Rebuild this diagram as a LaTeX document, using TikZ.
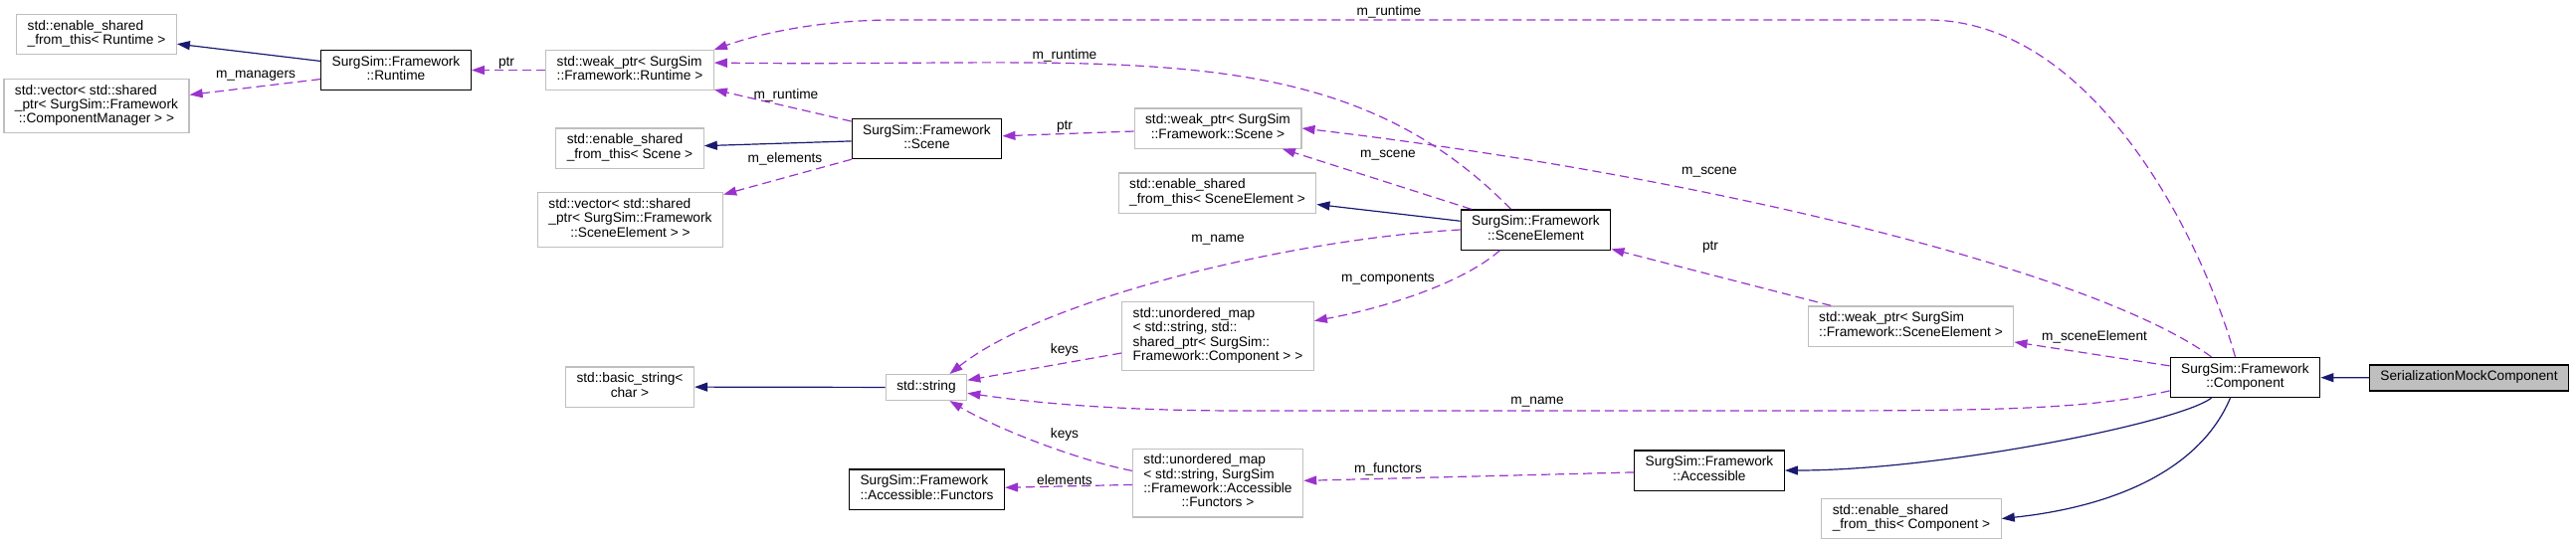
\documentclass[tikz,border=0pt]{standalone}
\usepackage{fontspec}
\setmainfont{Liberation Sans}
\usetikzlibrary{arrows.meta}
\definecolor{dxgray}{HTML}{BFBFBF}
\definecolor{dxblue}{HTML}{191970}
\definecolor{dxpurple}{HTML}{9A32CD}
\newcommand{\clsone}[1]{\begin{tabular}{@{}c@{}}#1\end{tabular}}
\newcommand{\clstwo}[2]{\begin{tabular}{@{}l@{}}#1\\\multicolumn{1}{@{}c@{}}{#2}\end{tabular}}
\begin{document}
\begin{tikzpicture}[x=1pt,y=1pt,
  every node/.style={font=\fontsize{13.7}{14.3}\selectfont},
  cls/.style={draw=black,line width=1.2pt,fill=white,inner xsep=11pt,inner ysep=5.8pt},
  ext/.style={cls,draw=dxgray},
  self/.style={cls,fill=dxgray},
  inh/.style={draw=dxblue,line width=1.2pt,-{Triangle[length=13pt,width=9pt]}},
  use/.style={draw=dxpurple,line width=1.2pt,dash pattern=on 9pt off 5pt,-{Triangle[length=13pt,width=9pt]}},
  lab/.style={inner sep=1pt}]
 \useasboundingbox (0,0) rectangle (2589,-547);
 % classes
 \node[ext] (esftR) at (97,-34.5) {\clstwo{std::enable\_shared}{\_from\_this< Runtime >}};
 \node[ext] (vecCM) at (97,-106.5) {\clstwo{std::vector< std::shared\\\_ptr< SurgSim::Framework}{::ComponentManager > >}};
 \node[cls] (runtime) at (398,-70.5) {\clstwo{SurgSim::Framework}{::Runtime}};
 \node[ext] (weakR) at (633,-70.5) {\clstwo{std::weak\_ptr< SurgSim}{::Framework::Runtime >}};
 \node[ext] (esftS) at (633,-149) {\clstwo{std::enable\_shared}{\_from\_this< Scene >}};
 \node[ext] (vecSE) at (633.5,-221) {\clstwo{std::vector< std::shared\\\_ptr< SurgSim::Framework}{::SceneElement > >}};
 \node[cls] (scene) at (931.5,-139.5) {\clstwo{SurgSim::Framework}{::Scene}};
 \node[ext] (weakS) at (1224,-129) {\clstwo{std::weak\_ptr< SurgSim}{::Framework::Scene >}};
 \node[ext] (esftSE) at (1223.5,-194) {\clstwo{std::enable\_shared}{\_from\_this< SceneElement >}};
 \node[cls] (sceneEl) at (1543.5,-231) {\clstwo{SurgSim::Framework}{::SceneElement}};
 \node[ext] (mapC) at (1224,-338) {\clstwo{std::unordered\_map\\< std::string, std::\\shared\_ptr< SurgSim::}{Framework::Component > >}};
 \node[ext] (basic) at (633,-389) {\clstwo{std::basic\_string<}{char >}};
 \node[ext] (str) at (931,-389.5) {\clsone{std::string}};
 \node[ext] (weakSE) at (1920.5,-328) {\clstwo{std::weak\_ptr< SurgSim}{::Framework::SceneElement >}};
 \node[cls] (comp) at (2256.5,-379.5) {\clstwo{SurgSim::Framework}{::Component}};
 \node[self] (smc) at (2481.5,-380) {\clsone{SerializationMockComponent}};
 \node[cls] (access) at (1718,-473) {\clstwo{SurgSim::Framework}{::Accessible}};
 \node[ext] (mapF) at (1224,-485.5) {\clstwo{std::unordered\_map\\< std::string, SurgSim\\::Framework::Accessible}{::Functors >}};
 \node[cls] (functors) at (931.5,-492) {\clstwo{SurgSim::Framework}{::Accessible::Functors}};
 \node[ext] (esftC) at (1921,-521.5) {\clstwo{std::enable\_shared}{\_from\_this< Component >}};
 % inheritance
 \draw[inh] (runtime) -- (esftR);
 \draw[inh] (scene) -- (esftS);
 \draw[inh] (sceneEl) -- (esftSE);
 \draw[inh] (str) -- (basic);
 \draw[inh] (smc) -- (comp);
 \draw[inh] ([xshift=-34pt]comp.south) .. controls (2190,-425) and (1950,-473) .. (access.east);
 \draw[inh] ([xshift=-15pt]comp.south) .. controls (2210,-475) and (2120,-510) .. (esftC.east);
 % members
 \draw[use] (runtime) -- (vecCM);
 \draw[use] (weakR) -- (runtime);
 \draw[use] ([xshift=-10pt]comp.north) .. controls (2210,-230) and (2100,-20) .. (1937,-20)
   -- (900,-20) .. controls (820,-20) and (760,-35) .. (weakR.north east);
 \draw[use] ([xshift=-25pt]sceneEl.north) .. controls (1342,-30) and (1117,-68) .. (weakR.5);
 \draw[use] (scene) -- (weakR);
 \draw[use] (scene) -- (vecSE);
 \draw[use] (weakS) -- (scene);
 \draw[use] (sceneEl) -- (weakS);
 \draw[use] ([xshift=-34pt]comp.north) .. controls (2100,-270) and (1700,-175) .. (weakS.east);
 \draw[use] (sceneEl.west) .. controls (1300,-240) and (1050,-300) .. (str.30);
 \draw[use] ([xshift=-36pt]sceneEl.south) .. controls (1470,-285) and (1390,-310) .. (mapC.9);
 \draw[use] (mapC) -- (str);
 \draw[use] (comp.190) .. controls (2100,-412) and (2000,-413) .. (1800,-413)
   -- (1250,-413) .. controls (1100,-413) and (1020,-402) .. (str.-8);
 \draw[use] (mapF.172) .. controls (1080,-462) and (1000,-430) .. (str.-30);
 \draw[use] (mapF) -- (functors);
 \draw[use] (access) -- (mapF);
 \draw[use] (weakSE) -- (sceneEl);
 \draw[use] (comp) -- (weakSE);
 % labels
 \node[lab] (lManagers) at (257,-76) {m\_managers};
 \node[lab] (lPtrR) at (509,-63) {ptr};
 \node[lab] (lRuntimeTop) at (1396,-12) {m\_runtime};
 \node[lab] (lRuntimeSE) at (1070,-56) {m\_runtime};
 \node[lab] (lRuntimeS) at (790,-96) {m\_runtime};
 \node[lab] (lElements) at (789,-160) {m\_elements};
 \node[lab] (lPtrS) at (1070,-127) {ptr};
 \node[lab] (lSceneSE) at (1395,-156) {m\_scene};
 \node[lab] (lSceneC) at (1718,-173) {m\_scene};
 \node[lab] (lNameSE) at (1224,-241) {m\_name};
 \node[lab] (lComponents) at (1395,-280) {m\_components};
 \node[lab] (lPtrSE) at (1719,-248) {ptr};
 \node[lab] (lSceneElement) at (2105,-339) {m\_sceneElement};
 \node[lab] (lKeysC) at (1070,-352) {keys};
 \node[lab] (lNameC) at (1545,-404) {m\_name};
 \node[lab] (lKeysF) at (1070,-437) {keys};
 \node[lab] (lFunctors) at (1395,-472) {m\_functors};
 \node[lab] (lElementsF) at (1070,-483) {elements};
\end{tikzpicture}
\end{document}
